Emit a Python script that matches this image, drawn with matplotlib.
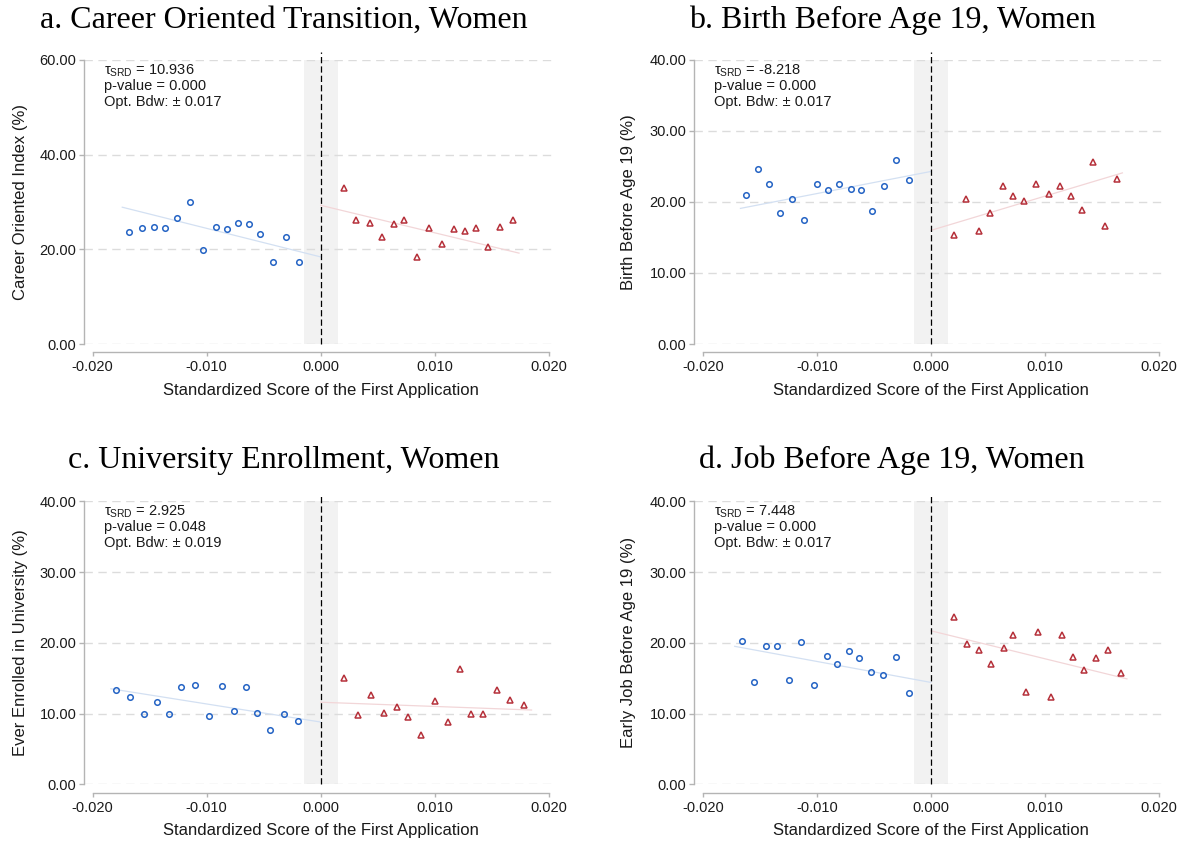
import matplotlib
matplotlib.use('Agg')
import matplotlib.pyplot as plt

# ---- data ----
# a. Career oriented index
career_x_left = [-0.01682, -0.01566, -0.01460, -0.01361, -0.01262, -0.01149, -0.01033, -0.00921,
                 -0.00825, -0.00722, -0.00629, -0.00533, -0.00421, -0.00305, -0.00192]
career_y_left = [23.7, 24.5, 24.7, 24.6, 26.7, 30.1, 19.8, 24.7, 24.2, 25.6, 25.3, 23.3, 17.3, 22.6, 17.3]
career_x_right = [0.00202, 0.00311, 0.00430, 0.00536, 0.00646, 0.00735, 0.00844, 0.00954,
                  0.01066, 0.01166, 0.01265, 0.01361, 0.01470, 0.01576, 0.01685]
career_y_right = [32.9, 26.1, 25.5, 22.7, 25.4, 26.1, 18.3, 24.5, 21.2, 24.2, 23.8, 24.5, 20.4, 24.7, 26.1]
career_fit_left = ([-0.0174, 0.0], [28.9, 18.4])
career_fit_right = ([0.0, 0.0174], [29.3, 19.2])

# b. Birth before age 19
birth_x_left = [-0.01621, -0.01517, -0.01418, -0.01324, -0.01221, -0.01111, -0.01002, -0.00898,
                -0.00805, -0.00702, -0.00616, -0.00519, -0.00413, -0.00303, -0.00193]
birth_y_left = [21.0, 24.6, 22.6, 18.4, 20.4, 17.4, 22.6, 21.7, 22.5, 21.9, 21.7, 18.8, 22.2, 25.9, 23.1]
birth_x_right = [0.00200, 0.00309, 0.00419, 0.00522, 0.00629, 0.00719, 0.00819, 0.00925,
                 0.01035, 0.01131, 0.01228, 0.01324, 0.01421, 0.01524, 0.01631]
birth_y_right = [15.3, 20.4, 15.9, 18.5, 22.3, 20.8, 20.1, 22.6, 21.1, 22.2, 20.8, 18.9, 25.6, 16.6, 23.3]
birth_fit_left = ([-0.0167, 0.0], [19.1, 24.3])
birth_fit_right = ([0.0, 0.0168], [16.0, 24.1])

# c. University enrollment
univ_x_left = [-0.01791, -0.01672, -0.01550, -0.01437, -0.01331, -0.01222, -0.01103, -0.00977,
               -0.00864, -0.00762, -0.00656, -0.00560, -0.00440, -0.00318, -0.00195]
univ_y_left = [13.3, 12.3, 10.0, 11.6, 9.9, 13.7, 14.0, 9.6, 13.9, 10.3, 13.7, 10.1, 7.7, 9.9, 9.0]
univ_x_right = [0.00205, 0.00325, 0.00440, 0.00553, 0.00669, 0.00765, 0.00884, 0.01003,
                0.01113, 0.01219, 0.01321, 0.01427, 0.01546, 0.01662, 0.01785]
univ_y_right = [15.0, 9.8, 12.6, 10.1, 10.9, 9.5, 6.9, 11.8, 8.8, 16.3, 9.9, 9.9, 13.3, 11.9, 11.2]
univ_fit_left = ([-0.0184, 0.0], [13.5, 8.8])
univ_fit_right = ([0.0, 0.0185], [11.6, 10.5])

# d. Job before age 19
job_x_left = [-0.01657, -0.01547, -0.01444, -0.01348, -0.01248, -0.01138, -0.01022, -0.00915,
              -0.00819, -0.00715, -0.00626, -0.00526, -0.00419, -0.00303, -0.00193]
job_y_left = [20.2, 14.4, 19.5, 19.5, 14.8, 20.1, 14.0, 18.1, 17.0, 18.9, 17.8, 15.9, 15.5, 18.0, 12.9]
job_x_right = [0.00200, 0.00313, 0.00423, 0.00529, 0.00639, 0.00725, 0.00839, 0.00942,
               0.01052, 0.01151, 0.01248, 0.01344, 0.01448, 0.01554, 0.01664]
job_y_right = [23.7, 19.9, 19.0, 17.0, 19.2, 21.1, 13.1, 21.5, 12.3, 21.1, 18.0, 16.2, 17.9, 19.0, 15.8]
job_fit_left = ([-0.0172, 0.0], [19.5, 14.4])
job_fit_right = ([0.0, 0.0172], [21.7, 14.9])

titles = ['a. Career Oriented Transition, Women', 'b. Birth Before Age 19, Women',
          'c. University Enrollment, Women', 'd. Job Before Age 19, Women']
ylabels = ['Career Oriented Index (%)', 'Birth Before Age 19 (%)',
           'Ever Enrolled in University (%)', 'Early Job Before Age 19 (%)']
tau_values = ['10.936', '-8.218', '2.925', '7.448']
p_values = ['0.000', '0.000', '0.048', '0.000']
bandwidths = ['0.017', '0.017', '0.019', '0.017']
ytick_sets = [[0, 20, 40, 60], [0, 10, 20, 30, 40], [0, 10, 20, 30, 40], [0, 10, 20, 30, 40]]
xticks = [-0.02, -0.01, 0.0, 0.01, 0.02]
xtick_labels = ['-0.020', '-0.010', '0.000', '0.010', '0.020']
xlabel = 'Standardized Score of the First Application'
excluded_band = (-0.0015, 0.0015)

panels = [
    (career_x_left, career_y_left, career_x_right, career_y_right, career_fit_left, career_fit_right),
    (birth_x_left, birth_y_left, birth_x_right, birth_y_right, birth_fit_left, birth_fit_right),
    (univ_x_left, univ_y_left, univ_x_right, univ_y_right, univ_fit_left, univ_fit_right),
    (job_x_left, job_y_left, job_x_right, job_y_right, job_fit_left, job_fit_right),
]

# ---- style ----
plt.rcParams['font.family'] = ['Liberation Sans Narrow', 'Liberation Sans', 'DejaVu Sans']
plt.rcParams['mathtext.fontset'] = 'custom'
plt.rcParams['mathtext.rm'] = 'Liberation Sans'
plt.rcParams['mathtext.it'] = 'Liberation Sans'

W, H = 1182, 846
fig = plt.figure(figsize=(W / 100, H / 100), dpi=100)
fig.patch.set_facecolor('white')

blue = '#2463c4'
red = '#b5303a'
gray_axis = '#b4b4b4'

# pixel boxes: left, top, right, bottom
boxes = [(83.5, 60, 555.5, 344), (693.7, 60, 1165.7, 344),
         (83.5, 501.3, 555.5, 784.3), (693.7, 501.3, 1165.7, 784.3)]
title_pos = [(284, 28), (892, 28), (284, 468), (892, 468)]
ylabel_x = [21, 628, 21, 628]

for i, (xl, yl, xr, yr, fl, fr) in enumerate(panels):
    l, t, r, b = boxes[i]
    ax = fig.add_axes([l / W, 1 - b / H, (r - l) / W, (b - t) / H])
    yt = ytick_sets[i]
    ax.set_xlim(-0.0208, 0.0206)
    ax.set_ylim(yt[0], yt[-1])

    ax.axvspan(excluded_band[0], excluded_band[1], color='#f2f2f2', lw=0, zorder=0)
    ax.yaxis.grid(True, color='#dcdcdc', linestyle=(0, (6, 4)), lw=1.0, zorder=0.5)
    ax.set_axisbelow(True)

    ax.plot(fl[0], fl[1], color='#d3e0f2', lw=0.9, zorder=2)
    ax.plot(fr[0], fr[1], color='#f2d6d8', lw=0.9, zorder=2)
    ax.plot(xl, yl, 'o', ms=4.0, mfc='none', mec=blue, mew=1.1, zorder=3)
    ax.plot(xr, yr, '^', ms=4.8, mfc='none', mec=red, mew=1.1, zorder=3)
    ax.axvline(0, ymin=0, ymax=1.027, color='black', lw=0.9,
               linestyle=(0, (5, 2.5)), clip_on=False, zorder=4)

    for s in ['top', 'right']:
        ax.spines[s].set_visible(False)
    ax.spines['left'].set_color(gray_axis)
    ax.spines['bottom'].set_color(gray_axis)
    ax.spines['left'].set_linewidth(1.0)
    ax.spines['bottom'].set_linewidth(1.0)
    ax.spines['bottom'].set_position(('outward', 6.1))
    ax.spines['bottom'].set_bounds(-0.02, 0.02)
    ax.spines['left'].set_bounds(yt[0], yt[-1])

    ax.set_yticks(yt)
    ax.set_yticklabels(['%.2f' % v for v in yt])
    ax.set_xticks(xticks)
    ax.set_xticklabels(xtick_labels)
    ax.tick_params(axis='y', length=3.6, width=1.0, color=gray_axis, pad=1.5,
                   labelsize=10.5, labelcolor='#1a1a1a')
    ax.tick_params(axis='x', length=2.6, width=1.0, color=gray_axis, pad=3,
                   labelsize=10.5, labelcolor='#1a1a1a')

    # annotation block
    ax.text(0.043, 0.962, r'$\tau_{\rm SRD}$ = ' + tau_values[i], transform=ax.transAxes,
            ha='left', va='center', fontsize=10.5, color='#1a1a1a')
    ax.text(0.043, 0.908, 'p-value = ' + p_values[i], transform=ax.transAxes,
            ha='left', va='center', fontsize=10.5, color='#1a1a1a')
    ax.text(0.043, 0.852, 'Opt. Bdw: \u00b1 ' + bandwidths[i], transform=ax.transAxes,
            ha='left', va='center', fontsize=10.5, color='#1a1a1a')

    # labels and titles
    fig.text(ylabel_x[i] / W, 1 - ((t + b) / 2) / H, ylabels[i], rotation=90,
             ha='center', va='center', fontsize=12, color='#1a1a1a')
    x0 = l + (0.0 + 0.0208) / 0.0414 * (r - l)
    fig.text(x0 / W, 1 - (b + 46.5) / H, xlabel, ha='center', va='center',
             fontsize=12, color='#1a1a1a')
    tx, ty = title_pos[i]
    fig.text(tx / W, 1 - ty / H, titles[i], ha='center', va='baseline',
             fontsize=23, family=['Liberation Serif', 'DejaVu Serif'], color='black')

fig.savefig('out.png', dpi=100, facecolor='white')
